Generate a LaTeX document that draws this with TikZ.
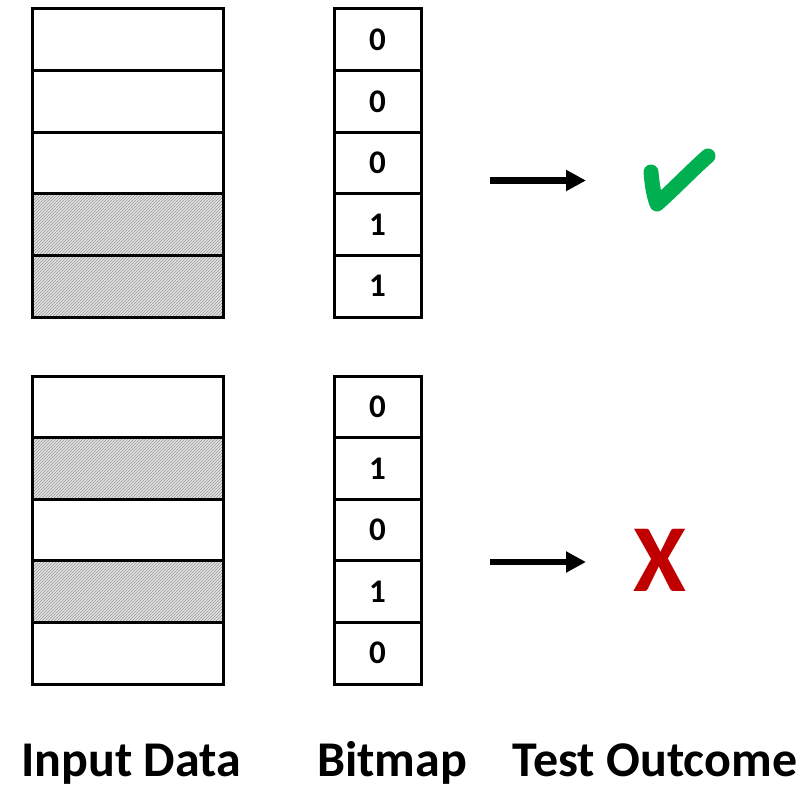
\documentclass[tikz,border=0pt]{standalone}
\usepackage{fontspec}
\setmainfont{Carlito}
\usetikzlibrary{arrows.meta,patterns}
\definecolor{okgreen}{HTML}{00B050}
\definecolor{badred}{HTML}{C00000}
\begin{document}
\begin{tikzpicture}[x=1pt,y=-1pt,
  incell/.style={draw,line width=3pt,minimum width=191pt,minimum height=61.6pt,inner sep=0pt,outer sep=0pt,anchor=north west},
  shadecell/.style={incell,preaction={fill=gray!22},preaction={pattern=north east lines,pattern color=gray!80}},
  bitcell/.style={draw,line width=3pt,minimum width=87pt,minimum height=61.6pt,inner sep=0pt,outer sep=0pt,anchor=north west,
    font=\fontsize{33}{40}\selectfont\bfseries},
  flow/.style={line width=6.5pt,-{Triangle[length=20pt,width=20pt]}},
  label/.style={font=\fontsize{50}{60}\selectfont\bfseries,anchor=base}]
\useasboundingbox (0,0) rectangle (811,786);
% top group input
\node[incell] (a1) at (32,9) {};
\node[incell] (a2) at (32,70.6) {};
\node[incell] (a3) at (32,132.2) {};
\node[shadecell] (a4) at (32,193.8) {};
\node[shadecell] (a5) at (32,255.4) {};
% top group bitmap
\node[bitcell] (b1) at (334,9) {0};
\node[bitcell] (b2) at (334,70.6) {0};
\node[bitcell] (b3) at (334,132.2) {0};
\node[bitcell] (b4) at (334,193.8) {1};
\node[bitcell] (b5) at (334,255.4) {1};
% bottom group input
\node[incell] (c1) at (32,376) {};
\node[shadecell] (c2) at (32,437.6) {};
\node[incell] (c3) at (32,499.2) {};
\node[shadecell] (c4) at (32,560.8) {};
\node[incell] (c5) at (32,622.4) {};
% bottom group bitmap
\node[bitcell] (d1) at (334,376) {0};
\node[bitcell] (d2) at (334,437.6) {1};
\node[bitcell] (d3) at (334,499.2) {0};
\node[bitcell] (d4) at (334,560.8) {1};
\node[bitcell] (d5) at (334,622.4) {0};
% arrows
\coordinate (t1s) at (490,180.5);
\coordinate (t1e) at (586,180.5);
\coordinate (t2s) at (490,562);
\coordinate (t2e) at (586,562);
\draw[flow] (t1s) -- (t1e);
\draw[flow] (t2s) -- (t2e);
% check mark
\draw[okgreen,line width=15pt,line cap=round,line join=round]
  (651,172) .. controls (652,185) and (654,196) .. (657,204)
  .. controls (675,188) and (692,170) .. (708,156);
% cross
\node[font=\fontsize{96}{110}\selectfont\bfseries,text=badred,inner sep=0pt] (bad) at (660,560) {X};
% labels
\node[label] (l1) at (131,776) {Input Data};
\node[label] (l2) at (392,776) {Bitmap};
\node[label] (l3) at (655,776) {Test Outcome};
\end{tikzpicture}
\end{document}
